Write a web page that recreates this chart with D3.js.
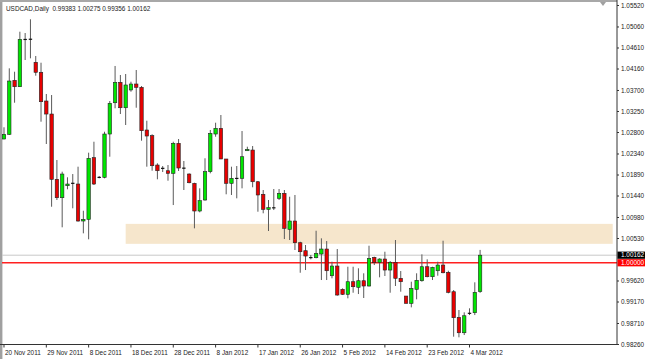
<!DOCTYPE html>
<html><head><meta charset="utf-8">
<script src="https://cdn.jsdelivr.net/npm/d3@7"></script>
<style>body{margin:0;background:#fff}svg{display:block}text{font-family:"Liberation Sans",Arial,sans-serif}</style>
</head><body><svg id="c" width="645" height="359"></svg>
<script>
const dates = [
"2011-11-20","2011-11-21","2011-11-22","2011-11-23","2011-11-24","2011-11-25",
"2011-11-27","2011-11-28","2011-11-29","2011-11-30","2011-12-01","2011-12-02",
"2011-12-04","2011-12-05","2011-12-06","2011-12-07","2011-12-08","2011-12-09",
"2011-12-11","2011-12-12","2011-12-13","2011-12-14","2011-12-15","2011-12-16",
"2011-12-18","2011-12-19","2011-12-20","2011-12-21","2011-12-22","2011-12-23",
"2011-12-26","2011-12-27","2011-12-28","2011-12-29","2011-12-30",
"2012-01-02","2012-01-03","2012-01-04","2012-01-05","2012-01-06",
"2012-01-08","2012-01-09","2012-01-10","2012-01-11","2012-01-12","2012-01-13",
"2012-01-15","2012-01-16","2012-01-17","2012-01-18","2012-01-19","2012-01-20",
"2012-01-22","2012-01-23","2012-01-24","2012-01-25","2012-01-26","2012-01-27",
"2012-01-29","2012-01-30","2012-01-31","2012-02-01","2012-02-02","2012-02-03",
"2012-02-05","2012-02-06","2012-02-07","2012-02-08","2012-02-09","2012-02-10",
"2012-02-12","2012-02-13","2012-02-14","2012-02-15","2012-02-16","2012-02-17",
"2012-02-19","2012-02-20","2012-02-21","2012-02-22","2012-02-23","2012-02-24",
"2012-02-26","2012-02-27","2012-02-28","2012-02-29","2012-03-01","2012-03-02",
"2012-03-04","2012-03-05","2012-03-06"];
const open = [1.02650,1.02751,1.03907,1.03770,1.04785,1.04792,1.04293,1.04079,1.03464,1.03185,
1.01787,1.01393,1.01650,1.01701,1.01686,1.00894,1.00930,1.02250,1.01825,1.01830,
1.02757,1.03427,1.03864,1.03320,1.03700,1.03828,1.03757,1.02843,1.02721,1.02093,
1.02022,1.01971,1.01915,1.02558,1.02029,1.01900,1.01701,1.01108,1.01344,1.01950,
1.02757,1.02879,1.02222,1.01701,1.01808,1.01808,1.02399,1.02414,1.01735,1.01466,
1.01144,1.01166,1.01380,1.01487,1.00716,1.00894,1.00429,1.00258,1.00108,1.00108,
1.00187,1.00294,0.99722,0.99930,0.99431,0.99324,0.99594,0.99474,0.99615,0.99502,
1.00116,1.00005,1.00080,0.99844,1.00009,0.99667,0.99287,0.99131,0.99431,0.99615,
0.99915,0.99701,0.99829,0.99951,0.99795,0.99380,0.98831,0.98501,0.98917,0.98930,0.99383];
const high = [1.02901,1.04164,1.04091,1.04948,1.04920,1.05214,1.04428,1.04284,1.03614,1.03592,
1.02200,1.01950,1.01830,1.01900,1.02057,1.01114,1.02357,1.02592,1.01858,1.02806,
1.03464,1.04214,1.04021,1.04042,1.03877,1.04128,1.03785,1.03042,1.02751,1.02130,
1.02072,1.02093,1.02592,1.02650,1.02179,1.01915,1.01714,1.01594,1.02237,1.02843,
1.02999,1.03164,1.02222,1.02057,1.02072,1.02821,1.02485,1.02500,1.01750,1.01558,
1.01344,1.01579,1.01579,1.01558,1.01414,1.01451,1.00450,1.00380,1.00166,1.00686,
1.00523,1.00465,1.00022,1.00294,0.99452,0.99915,0.99915,0.99881,0.99774,1.00365,
1.00130,1.00095,1.00236,1.00037,1.00487,0.99823,0.99287,0.99594,0.99774,1.00180,
1.00073,0.99915,1.00022,1.00472,0.99829,0.99416,0.98988,0.98938,0.99024,0.99581,1.00275];
const low = [1.02644,1.02736,1.03427,1.03764,1.04342,1.04378,1.04006,1.03021,1.02543,1.01200,
1.01344,1.00759,1.01573,1.01166,1.00879,1.00630,1.00502,1.01665,1.01808,1.01808,
1.02271,1.03308,1.03185,1.02950,1.03663,1.03320,1.02614,1.02057,1.01971,1.01787,
1.01943,1.01757,1.01236,1.01965,1.01558,1.01701,1.00737,1.01080,1.01329,1.01915,
1.02699,1.02222,1.01466,1.01451,1.01380,1.01594,1.02399,1.01616,1.01093,1.01059,
1.00680,1.01129,1.01344,1.00508,1.00487,1.00273,0.99786,0.99844,1.00073,1.00095,
0.99630,0.99630,0.99667,0.99294,0.99309,0.99238,0.99358,0.99330,0.99245,0.99491,
0.99951,0.99688,0.99716,0.99358,0.99502,0.99380,0.99131,0.99045,0.99217,0.99594,
0.99688,0.99630,0.99722,0.99774,0.99345,0.98416,0.98403,0.98452,0.98880,0.98880,0.99356];
const close = [1.02751,1.03892,1.03770,1.04785,1.04779,1.04781,1.04079,1.03449,1.03185,1.01787,
1.01393,1.01900,1.01686,1.01701,1.00894,1.00930,1.02237,1.01686,1.01830,1.02757,
1.03415,1.03864,1.03320,1.03807,1.03828,1.03757,1.02828,1.02714,1.02078,1.01971,
1.02022,1.01915,1.02558,1.02029,1.02022,1.01714,1.01108,1.01329,1.01950,1.02772,
1.02879,1.02222,1.01701,1.01808,1.01804,1.02271,1.02429,1.01735,1.01451,1.01144,
1.01179,1.01187,1.01487,1.00737,1.00894,1.00429,1.00236,1.00144,1.00112,1.00202,
1.00294,0.99829,0.99930,0.99309,0.99324,0.99594,0.99487,0.99615,0.99502,1.00095,
1.00001,1.00080,0.99844,1.00009,0.99667,0.99594,0.99131,0.99452,0.99624,0.99915,
0.99701,0.99902,0.99951,0.99786,0.99367,0.98823,0.98501,0.98865,0.98917,0.99367,1.00162];
const yTicks = [1.05520,1.05060,1.04610,1.04160,1.03700,1.03250,1.02800,1.02340,1.01890,1.01440,1.00980,1.00530,0.99620,0.99170,0.98710,0.98260];
const xTickDates = ["2011-11-20","2011-11-29","2011-12-08","2011-12-18","2011-12-28","2012-01-08","2012-01-17","2012-01-26","2012-02-05","2012-02-14","2012-02-23","2012-03-04"];
const zoneLow = 1.00405, zoneHigh = 1.00833, zoneStart = "2011-12-16";
const levelPrice = 1.00000;
const bidPrice = 1.00162;
const titleText = "USDCAD,Daily  0.99383 1.00275 0.99356 1.00162";

const svg = d3.select("#c");
const PL = 2, PR = 617, PT = 0, PB = 344.5;
const x = d3.scaleBand().domain(dates).range([1.35, 1.35 + dates.length * 5.29]);
const y = d3.scaleLinear().domain([0.9826, 1.0552]).range([344, 5]);
const cx = d => x(d) + x.bandwidth() / 2;
const parse = d3.timeParse("%Y-%m-%d"), fmt = d3.timeFormat("%-d %b %Y");

svg.append("rect").attr("width",645).attr("height",359).attr("fill","#fff");
// frame
svg.append("rect").attr("x",0).attr("y",0).attr("width",2).attr("height",359).attr("fill","#a0a0a0");
svg.append("rect").attr("x",2).attr("y",0).attr("width",1).attr("height",359).attr("fill","#d8d8d8");
svg.append("rect").attr("x",0).attr("y",0).attr("width",PR).attr("height",2).attr("fill","#a8a8a8");

// zone
svg.append("rect").attr("x", cx(zoneStart)).attr("y", y(zoneHigh))
  .attr("width", 612.7 - cx(zoneStart)).attr("height", y(zoneLow) - y(zoneHigh))
  .attr("fill", "#f6e6cc");

// bid line & level line
svg.append("line").attr("x1",PL).attr("x2",PR).attr("y1",y(bidPrice)).attr("y2",y(bidPrice))
  .attr("stroke","#c8c8c8").attr("stroke-width",1);
svg.append("line").attr("x1",PL).attr("x2",PR).attr("y1",y(levelPrice)).attr("y2",y(levelPrice))
  .attr("stroke","#ff2020").attr("stroke-width",1.4);

// candles
const data = dates.map((d,i)=>({d, o:open[i], h:high[i], l:low[i], c:close[i]}));
const g = svg.append("g");
g.selectAll("line.w").data(data).join("line").attr("class","w")
  .attr("x1",d=>cx(d.d)).attr("x2",d=>cx(d.d)).attr("y1",d=>y(d.h)).attr("y2",d=>y(d.l))
  .attr("stroke","#5a5a5a").attr("stroke-width",1);
const bw = 3.4;
data.forEach(d=>{
  const yo = y(d.o), yc = y(d.c);
  if (Math.abs(yo-yc) < 1) {
    g.append("line").attr("x1",cx(d.d)-bw/2).attr("x2",cx(d.d)+bw/2)
      .attr("y1",(yo+yc)/2).attr("y2",(yo+yc)/2).attr("stroke","#111").attr("stroke-width",1.2);
  } else {
    g.append("rect").attr("x",cx(d.d)-bw/2).attr("width",bw)
      .attr("y",Math.min(yo,yc)).attr("height",Math.abs(yo-yc))
      .attr("fill", d.c > d.o ? "#00e600" : "#e80000")
      .attr("stroke","#222").attr("stroke-width",0.6);
  }
});

// axes
const gx = svg.append("g").attr("transform",`translate(0,${PB})`)
  .call(d3.axisBottom(x).tickValues(xTickDates).tickSize(3).tickFormat(d=>fmt(parse(d))));
gx.select(".domain").remove();
gx.selectAll(".tick line").attr("stroke","#333");
gx.selectAll(".tick text").attr("text-anchor","start").attr("x",1).attr("y",5.5)
  .attr("font-size","6.4px").attr("fill","#222").attr("font-family",null);
svg.append("line").attr("x1",0).attr("x2",PR).attr("y1",PB).attr("y2",PB).attr("stroke","#333").attr("stroke-width",1);

const gy = svg.append("g").attr("transform",`translate(${PR},0)`)
  .call(d3.axisRight(y).tickValues(yTicks).tickSize(2).tickFormat(d3.format(".5f")));
gy.select(".domain").remove();
gy.selectAll(".tick line").attr("stroke","#333");
gy.selectAll(".tick text").attr("x",4).attr("font-size","6.4px").attr("fill","#222").attr("font-family",null);
svg.append("line").attr("x1",PR).attr("x2",PR).attr("y1",0).attr("y2",PB).attr("stroke","#333").attr("stroke-width",1);

// price boxes
[[bidPrice,"#000"],[levelPrice,"#ff0000"]].forEach(([p,col])=>{
  svg.append("rect").attr("x",PR+0.5).attr("y",y(p)-3.6).attr("width",645-PR).attr("height",7.2).attr("fill",col);
  svg.append("text").attr("x",PR+4).attr("y",y(p)).attr("dy","0.34em").attr("font-size","6.4px")
    .attr("fill","#fff").text(d3.format(".5f")(p));
});

// chart shift marker
svg.append("path").attr("d","M600,2 L606,2 L603,6 Z").attr("fill","#a0a0a0");

// title
svg.append("text").attr("x",6).attr("y",10.5).attr("font-size","6.4px").attr("fill","#222")
  .attr("xml:space","preserve").style("white-space","pre").text(titleText);
</script></body></html>
